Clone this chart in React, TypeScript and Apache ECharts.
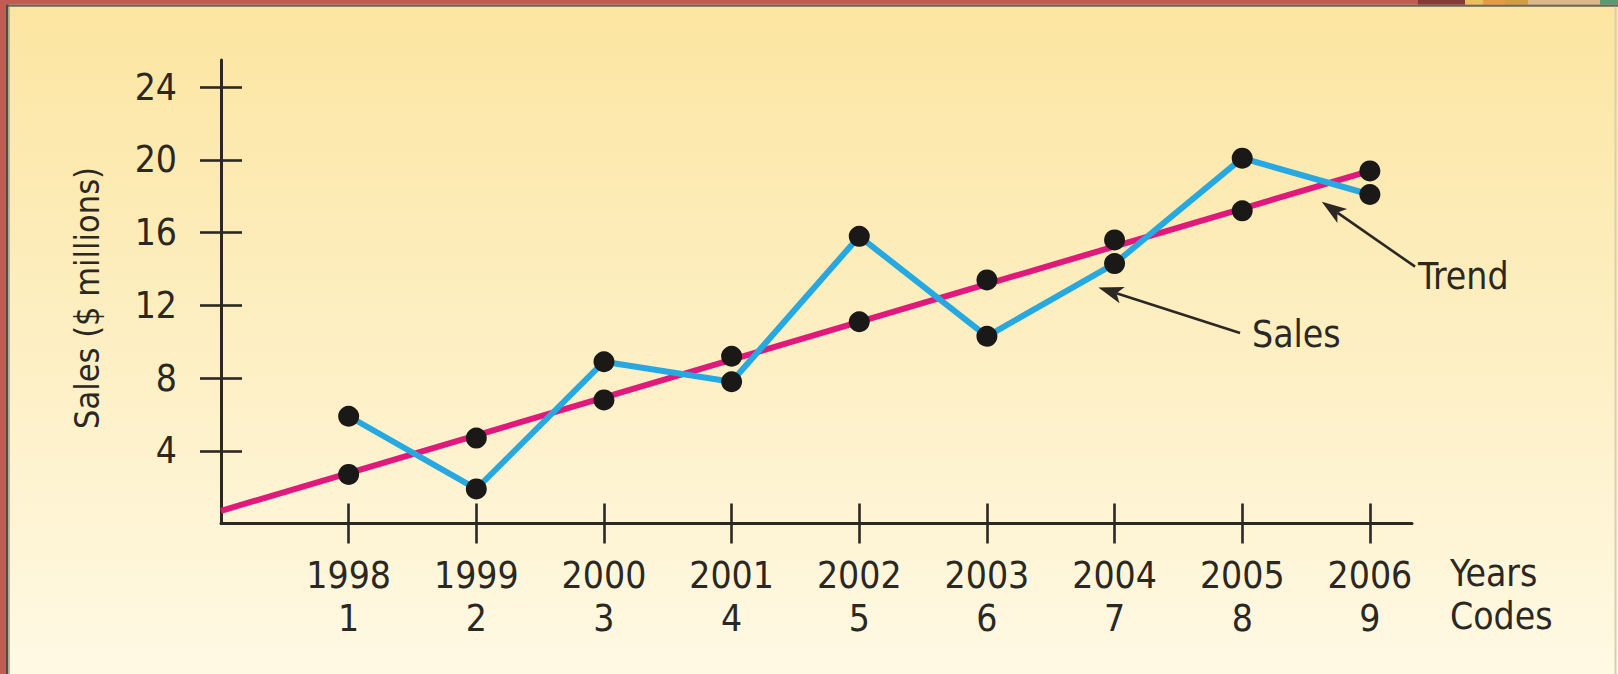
import React, { useEffect, useRef } from "react";
import * as echarts from "echarts";

// Years and their time codes along the horizontal axis
const years = ["1998", "1999", "2000", "2001", "2002", "2003", "2004", "2005", "2006"];
const codes = [1, 2, 3, 4, 5, 6, 7, 8, 9];

// Annual sales, $ millions
const sales = [5.9, 1.9, 8.9, 7.8, 15.8, 10.3, 14.3, 20.1, 18.1];

// Trend estimates for each year
const trend = [2.7, 4.7, 6.8, 9.2, 11.1, 13.4, 15.6, 17.2, 19.4];

// Straight trend line, from the vertical axis to the last year
const trendLineCodes = [0, 9];
const trendLineValues = [0.7, 19.4];

// Vertical axis ticks
const yTicks = [4, 8, 12, 16, 20, 24];

// Callout arrows, in axis units: [tail, tip]
const trendArrow = [[9.354, 14.13], [8.623, 17.7]];
const salesArrow = [[7.983, 10.48], [6.873, 12.99]];

const FONT = "'Liberation Sans Narrow', 'DejaVu Sans Condensed', 'Roboto Condensed', 'Liberation Sans', sans-serif";
const INK = "#2b2723";
const BLUE = "#27a8e0";
const PINK = "#e0197c";
const DOT = "#1b1918";
const FS = 37;

const W = 1618;
const H = 674;

function arrowShapes(tail: number[], tip: number[]) {
  const dx = tip[0] - tail[0];
  const dy = tip[1] - tail[1];
  const len = Math.hypot(dx, dy) || 1;
  const ux = dx / len;
  const uy = dy / len;
  const px = -uy;
  const py = ux;
  const headLen = 25;
  const half = 8.5;
  const notch = 6;
  const bx = tip[0] - ux * headLen;
  const by = tip[1] - uy * headLen;
  const nx = tip[0] - ux * (headLen - notch);
  const ny = tip[1] - uy * (headLen - notch);
  return [
    {
      type: "line",
      z: 50,
      silent: true,
      shape: { x1: tail[0], y1: tail[1], x2: nx, y2: ny },
      style: { stroke: INK, lineWidth: 2.6 },
    },
    {
      type: "polygon",
      z: 50,
      silent: true,
      shape: {
        points: [
          [tip[0], tip[1]],
          [bx + px * half, by + py * half],
          [nx, ny],
          [bx - px * half, by - py * half],
        ],
      },
      style: { fill: INK },
    },
  ];
}

export default function App() {
  const ref = useRef<HTMLDivElement>(null);

  useEffect(() => {
    if (!ref.current) return;
    const chart = echarts.init(ref.current, undefined, { renderer: "svg" });

    const tickStyle = { color: INK, width: 2.6 };
    const xLabel = (v: number) => {
      const i = codes.indexOf(v);
      return i < 0 ? "" : `${years[i]}\n${codes[i]}`;
    };

    chart.setOption({
      animation: false,
      backgroundColor: "transparent",
      textStyle: { fontFamily: FONT },
      grid: { left: 221, top: 60, width: 1191, height: 463.5, containLabel: false },
      xAxis: [
        {
          type: "value",
          gridIndex: 0,
          position: "bottom",
          min: 0,
          max: 9.33,
          axisLine: { show: true, onZero: false, lineStyle: { color: INK, width: 3 } },
          axisTick: { show: true, inside: false, length: 20, customValues: codes, lineStyle: tickStyle },
          axisLabel: {
            show: true,
            customValues: codes,
            formatter: xLabel,
            margin: 30,
            fontSize: FS,
            lineHeight: 43,
            color: INK,
            fontFamily: FONT,
          },
          splitLine: { show: false },
        },
        {
          type: "value",
          gridIndex: 0,
          position: "bottom",
          min: 0,
          max: 9.33,
          axisLine: { show: false },
          axisTick: { show: true, inside: true, length: 20, customValues: codes, lineStyle: tickStyle },
          axisLabel: { show: false },
          splitLine: { show: false },
        },
      ],
      yAxis: [
        {
          type: "value",
          gridIndex: 0,
          position: "left",
          min: 0,
          max: 25.5,
          axisLine: { show: true, onZero: false, lineStyle: { color: INK, width: 3 } },
          axisTick: { show: true, inside: false, length: 21, customValues: yTicks, lineStyle: tickStyle },
          axisLabel: {
            show: true,
            customValues: yTicks,
            margin: 44,
            fontSize: FS,
            color: INK,
            fontFamily: FONT,
          },
          splitLine: { show: false },
        },
        {
          type: "value",
          gridIndex: 0,
          position: "left",
          min: 0,
          max: 25.5,
          axisLine: { show: false },
          axisTick: { show: true, inside: true, length: 21, customValues: yTicks, lineStyle: tickStyle },
          axisLabel: { show: false },
          splitLine: { show: false },
        },
      ],
      series: [
        {
          type: "line",
          name: "Trend",
          xAxisIndex: 0,
          yAxisIndex: 0,
          data: trendLineCodes.map((c, i) => [c, trendLineValues[i]]),
          symbol: "none",
          lineStyle: { color: PINK, width: 6 },
          z: 2,
        },
        {
          type: "line",
          name: "Sales",
          xAxisIndex: 0,
          yAxisIndex: 0,
          data: codes.map((c, i) => [c, sales[i]]),
          symbol: "circle",
          symbolSize: 21,
          showSymbol: true,
          itemStyle: { color: DOT },
          lineStyle: { color: BLUE, width: 6 },
          z: 3,
        },
        {
          type: "scatter",
          name: "Trend values",
          xAxisIndex: 0,
          yAxisIndex: 0,
          data: codes.map((c, i) => [c, trend[i]]),
          symbol: "circle",
          symbolSize: 21,
          itemStyle: { color: DOT, opacity: 1 },
          z: 4,
        },
      ],
    });

    const px = (p: number[]) => chart.convertToPixel({ gridIndex: 0 }, p) as number[];
    const tTail = px(trendArrow[0]);
    const tTip = px(trendArrow[1]);
    const sTail = px(salesArrow[0]);
    const sTip = px(salesArrow[1]);
    const axisEnd = px([9.33, 0]);

    const textStyle = (text: string, extra: any = {}) => ({
      text,
      fontFamily: FONT,
      fontSize: FS,
      fill: INK,
      align: "left",
      verticalAlign: "middle",
      ...extra,
    });

    chart.setOption({
      graphic: [
        // picture frame
        { type: "rect", silent: true, z: 60, shape: { x: 0, y: 0, width: W, height: 4.5 }, style: { fill: "#c35b55" } },
        { type: "rect", silent: true, z: 60, shape: { x: 0, y: 0, width: 6, height: H }, style: { fill: "#c35b55" } },
        { type: "rect", silent: true, z: 60, shape: { x: 6, y: 4.5, width: W - 6, height: 2.2 }, style: { fill: "#6a665c" } },
        { type: "rect", silent: true, z: 60, shape: { x: 6, y: 4.5, width: 2.5, height: H }, style: { fill: "#4f4c46" } },
        { type: "rect", silent: true, z: 60, shape: { x: 8.5, y: 6.7, width: 1.5, height: H }, style: { fill: "#b9b4a4" } },
        { type: "rect", silent: true, z: 60, shape: { x: 1614.5, y: 6.7, width: 2, height: H }, style: { fill: "#d9cfb0" } },
        { type: "rect", silent: true, z: 61, shape: { x: 1418, y: 0, width: 47, height: 4.5 }, style: { fill: "#843a37" } },
        { type: "rect", silent: true, z: 61, shape: { x: 1465, y: 0, width: 18, height: 4.5 }, style: { fill: "#e6c25e" } },
        { type: "rect", silent: true, z: 61, shape: { x: 1483, y: 0, width: 22, height: 4.5 }, style: { fill: "#e49c42" } },
        { type: "rect", silent: true, z: 61, shape: { x: 1505, y: 0, width: 23, height: 4.5 }, style: { fill: "#cf9e42" } },
        { type: "rect", silent: true, z: 61, shape: { x: 1528, y: 0, width: 72, height: 4.5 }, style: { fill: "#d8b98a" } },
        { type: "rect", silent: true, z: 61, shape: { x: 1600, y: 0, width: 18, height: 4.5 }, style: { fill: "#5d9870" } },

        // axis titles
        {
          type: "text",
          silent: true,
          z: 50,
          x: 87,
          y: 298,
          rotation: Math.PI / 2,
          style: textStyle("Sales ($ millions)", { align: "center", fontSize: 34 }),
        },
        { type: "text", silent: true, z: 50, x: axisEnd[0] + 38, y: 573, style: textStyle("Years") },
        { type: "text", silent: true, z: 50, x: axisEnd[0] + 38, y: 616, style: textStyle("Codes") },

        // callouts
        ...arrowShapes(tTail, tTip),
        ...arrowShapes(sTail, sTip),
        { type: "text", silent: true, z: 50, x: tTail[0] + 3, y: tTail[1] + 9.5, style: textStyle("Trend") },
        { type: "text", silent: true, z: 50, x: sTail[0] + 12, y: sTail[1] + 1, style: textStyle("Sales") },
      ],
    });

    return () => chart.dispose();
  }, []);

  return (
    <div
      ref={ref}
      style={{
        position: "fixed",
        left: 0,
        top: 0,
        width: W,
        height: H,
        background: "linear-gradient(180deg, #fce5a0 0%, #fdeebf 45%, #fff9e4 100%)",
      }}
    />
  );
}
